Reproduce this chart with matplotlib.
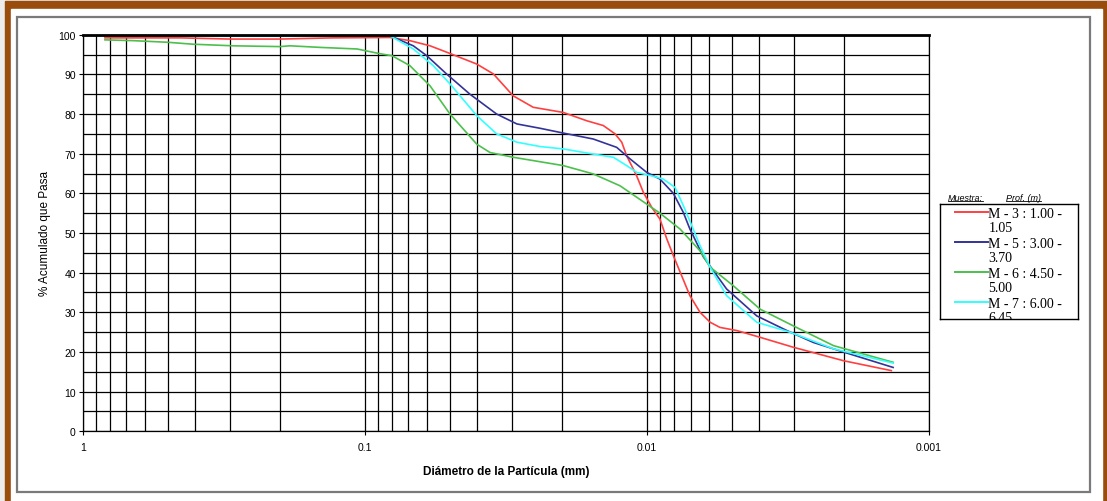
import numpy as np
import matplotlib
matplotlib.use("Agg")
import matplotlib.pyplot as plt
from matplotlib.patches import Rectangle
from matplotlib.lines import Line2D
from matplotlib.ticker import MultipleLocator, FixedLocator, FixedFormatter, LogLocator, NullFormatter

# grain size curves (diameter in mm, % passing)
red_d = [0.834, 0.45, 0.30, 0.20, 0.13, 0.0814, 0.075, 0.0692, 0.0587, 0.0513, 0.0401, 0.035,
         0.0298, 0.0253, 0.0198, 0.01634, 0.01428, 0.01297, 0.01228, 0.0118, 0.01087, 0.0103,
         0.00962, 0.00899, 0.0085, 0.00806, 0.00704, 0.00648, 0.00597, 0.00551, 0.0048, 0.00397,
         0.00303, 0.00201, 0.00136]
red_p = [99.2, 99.2, 98.9, 98.9, 99.2, 99.3, 98.9, 98.5, 97.2, 95.6, 92.6, 90.1,
         84.6, 81.7, 80.4, 78.3, 77.1, 75.0, 72.9, 69.5, 64.4, 60.3,
         56.5, 53.5, 48.5, 44.3, 34.2, 30.0, 27.5, 26.2, 25.4, 23.7,
         21.2, 17.8, 15.3]

blue_d = [0.834, 0.0814, 0.0673, 0.0603, 0.0513, 0.0424, 0.0341, 0.0289, 0.0239, 0.0198, 0.0155,
          0.0128, 0.01148, 0.01002, 0.00899, 0.00806, 0.00743, 0.00704, 0.00685, 0.00631, 0.00522,
          0.00408, 0.00319, 0.00257, 0.00191, 0.00134]
blue_p = [99.7, 99.7, 97.2, 94.7, 90.1, 85.0, 80.0, 77.5, 76.4, 75.2, 73.7,
          71.6, 68.7, 65.3, 63.6, 60.0, 55.2, 51.0, 49.3, 44.0, 35.9,
          29.1, 25.4, 22.4, 19.5, 16.1]

green_d = [0.834, 0.663, 0.502, 0.406, 0.293, 0.200, 0.184, 0.144, 0.1065, 0.0883, 0.0801, 0.0692,
           0.0587, 0.0499, 0.0401, 0.036, 0.0298, 0.0198, 0.0155, 0.01245, 0.01002, 0.00899,
           0.00763, 0.00648, 0.00597, 0.00494, 0.00397, 0.00303, 0.00218, 0.00134]
green_p = [98.7, 98.5, 98.1, 97.6, 97.2, 97.0, 97.2, 96.8, 96.4, 95.2, 94.7, 92.2,
           87.1, 80.0, 72.4, 70.3, 69.1, 67.0, 64.9, 61.9, 57.3, 55.0,
           51.0, 45.5, 41.4, 36.7, 30.8, 26.6, 21.6, 17.4]

cyan_d = [0.834, 0.0814, 0.0673, 0.0572, 0.0499, 0.0401, 0.0341, 0.0289, 0.0239, 0.0198, 0.0155,
          0.01315, 0.0118, 0.01087, 0.00949, 0.00875, 0.00795, 0.00743, 0.00704, 0.00648, 0.00597,
          0.00522, 0.00408, 0.00311, 0.00218, 0.00134]
cyan_p = [99.7, 99.7, 96.4, 92.2, 87.6, 79.6, 75.0, 72.9, 71.8, 71.2, 69.9,
          69.1, 67.0, 65.3, 64.3, 63.6, 61.5, 56.9, 53.0, 46.8, 41.4,
          34.2, 27.5, 25.0, 20.8, 17.2]

labels = ["M - 3 : 1.00 -\n1.05", "M - 5 : 3.00 -\n3.70", "M - 6 : 4.50 -\n5.00", "M - 7 : 6.00 -\n6.45"]
colors = ["#ff4040", "#333399", "#4cc04c", "#33ffff"]
x_ticks = [1, 0.1, 0.01, 0.001]
x_ticklabels = ["1", "0.1", "0.01", "0.001"]

W, H = 1107, 502
fig = plt.figure(figsize=(W / 100, H / 100), dpi=100)
fig.patch.set_facecolor("white")


def fr(x0, y0, x1, y1):
    # pixel box (top-left origin) -> figure fraction rect
    return [x0 / W, 1 - y1 / H, (x1 - x0) / W, (y1 - y0) / H]


# outer brown frame and grey panel border
fig.patches.append(Rectangle((0, 0), 1, 1, transform=fig.transFigure, color="#ececec", zorder=-10))
r = fr(5, 1.7, 1107, 520)
fig.patches.append(Rectangle((r[0], r[1]), r[2], r[3], transform=fig.transFigure, color="#994c0c", zorder=-9))
r = fr(10.7, 10, 1101.7, 520)
fig.patches.append(Rectangle((r[0], r[1]), r[2], r[3], transform=fig.transFigure, color="white", zorder=-8))
r = fr(17.3, 18.3, 1090, 493.3)
fig.patches.append(Rectangle((r[0], r[1]), r[2], r[3], transform=fig.transFigure, fill=False,
                             edgecolor="#7a7a7a", lw=1.6, zorder=-7))

ax = fig.add_axes(fr(82.7, 35.7, 929, 432.3))
ax.set_xscale("log")
ax.set_xlim(1, 0.001)
ax.set_ylim(0, 100)

ax.xaxis.set_major_locator(FixedLocator(x_ticks))
ax.xaxis.set_major_formatter(FixedFormatter(x_ticklabels))
ax.xaxis.set_minor_locator(LogLocator(base=10, subs=np.arange(2, 10)))
ax.xaxis.set_minor_formatter(NullFormatter())
ax.yaxis.set_major_locator(MultipleLocator(10))
ax.yaxis.set_minor_locator(MultipleLocator(5))

ax.grid(which="both", color="black", lw=0.9)
ax.set_axisbelow(True)
for s in ax.spines.values():
    s.set_color("black")
    s.set_linewidth(0.9)
ax.spines["top"].set_linewidth(2)

ax.tick_params(axis="both", which="major", labelsize=7.5, length=3, width=0.8, pad=2)
ax.tick_params(axis="both", which="minor", length=0)
for t in ax.get_xticklabels() + ax.get_yticklabels():
    t.set_family("Liberation Sans")
ax.tick_params(axis="x", pad=5)

ax.plot(red_d, red_p, color=colors[0], lw=1.2)
ax.plot(blue_d, blue_p, color=colors[1], lw=1.2)
ax.plot(green_d, green_p, color=colors[2], lw=1.2)
ax.plot(cyan_d, cyan_p, color=colors[3], lw=1.2)

ax.set_xlabel("Diámetro de la Partícula (mm)", family="Liberation Sans", fontsize=8.5,
              fontweight="bold", labelpad=9)
ax.set_ylabel("% Acumulado que Pasa", family="Liberation Sans", fontsize=8.5, labelpad=5)

# legend box, drawn by hand (the original clips the last entry)
lg = fig.add_axes(fr(940, 205, 1077.7, 320))
lg.set_xlim(0, 137.7)
lg.set_ylim(115, 0)
lg.set_xticks([])
lg.set_yticks([])
for s in lg.spines.values():
    s.set_color("black")
    s.set_linewidth(1.0)
for i, (lab, c) in enumerate(zip(labels, colors)):
    y = 8.3 + 30 * i
    lg.plot([15, 48.3], [y, y], color=c, lw=1.4)
    lg.text(48.5, y - 5.5, lab, fontsize=10, family="Liberation Serif", va="top", ha="left",
            linespacing=1.08, clip_on=True)

t1 = fig.text(947.7 / W, 1 - 199 / H, "Muestra:", fontsize=6.5, style="italic",
              family="Liberation Sans", va="center")
t2 = fig.text(1005.7 / W, 1 - 199 / H, "Prof. (m)", fontsize=6.5, style="italic",
              family="Liberation Sans", va="center")
fig.canvas.draw()
ren = fig.canvas.get_renderer()
for t in (t1, t2):
    bb = t.get_window_extent(ren).transformed(fig.transFigure.inverted())
    fig.lines.append(Line2D([bb.x0, bb.x1], [bb.y0 + 0.002, bb.y0 + 0.002],
                            transform=fig.transFigure, color="black", lw=0.6))

fig.savefig("out.png", dpi=100)
